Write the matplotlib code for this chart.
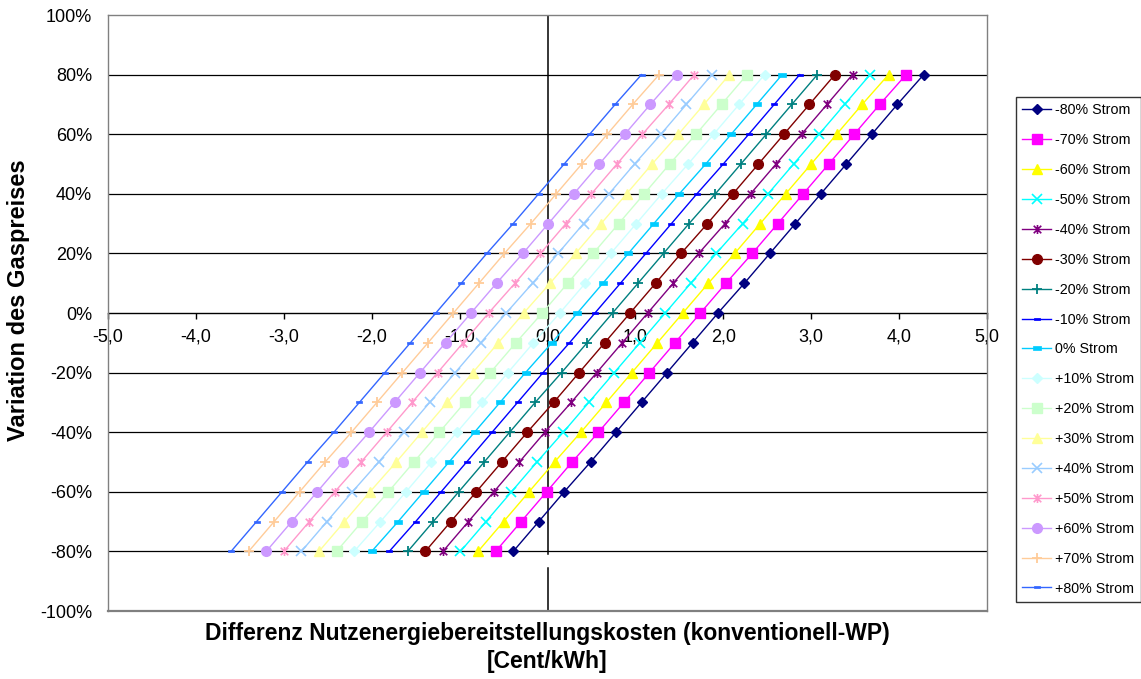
import matplotlib
matplotlib.use("Agg")
import matplotlib.pyplot as plt
from matplotlib.path import Path
from matplotlib.ticker import FixedLocator, FixedFormatter

plt.rcParams['font.family'] = ['Liberation Sans', 'DejaVu Sans']

# Gas price variation (y, %)
gas_variation = [-80, -70, -60, -50, -40, -30, -20, -10, 0, 10, 20, 30, 40, 50, 60, 70, 80]

series_labels = ["-80% Strom", "-70% Strom", "-60% Strom", "-50% Strom", "-40% Strom",
                 "-30% Strom", "-20% Strom", "-10% Strom", "0% Strom", "+10% Strom",
                 "+20% Strom", "+30% Strom", "+40% Strom", "+50% Strom", "+60% Strom",
                 "+70% Strom", "+80% Strom"]

# Cost difference (Cent/kWh) per electricity-price series, one value per gas variation
s_m80 = [-0.39, -0.10, 0.19, 0.49, 0.78, 1.07, 1.36, 1.65, 1.94, 2.24, 2.53, 2.82, 3.11, 3.40, 3.69, 3.98, 4.28]
s_m70 = [-0.59, -0.30, -0.01, 0.28, 0.58, 0.87, 1.16, 1.45, 1.74, 2.03, 2.33, 2.62, 2.91, 3.20, 3.49, 3.78, 4.08]
s_m60 = [-0.79, -0.50, -0.21, 0.08, 0.38, 0.67, 0.96, 1.25, 1.54, 1.83, 2.13, 2.42, 2.71, 3.00, 3.29, 3.58, 3.88]
s_m50 = [-0.99, -0.70, -0.41, -0.12, 0.18, 0.47, 0.76, 1.05, 1.34, 1.63, 1.92, 2.22, 2.51, 2.80, 3.09, 3.38, 3.67]
s_m40 = [-1.19, -0.90, -0.61, -0.32, -0.03, 0.27, 0.56, 0.85, 1.14, 1.43, 1.72, 2.02, 2.31, 2.60, 2.89, 3.18, 3.47]
s_m30 = [-1.39, -1.10, -0.81, -0.52, -0.23, 0.07, 0.36, 0.65, 0.94, 1.23, 1.52, 1.82, 2.11, 2.40, 2.69, 2.98, 3.27]
s_m20 = [-1.59, -1.30, -1.01, -0.72, -0.43, -0.14, 0.16, 0.45, 0.74, 1.03, 1.32, 1.61, 1.91, 2.20, 2.49, 2.78, 3.07]
s_m10 = [-1.80, -1.50, -1.21, -0.92, -0.63, -0.34, -0.05, 0.25, 0.54, 0.83, 1.12, 1.41, 1.70, 2.00, 2.29, 2.58, 2.87]
s_0   = [-2.00, -1.70, -1.41, -1.12, -0.83, -0.54, -0.25, 0.05, 0.34, 0.63, 0.92, 1.21, 1.50, 1.80, 2.09, 2.38, 2.67]
s_p10 = [-2.20, -1.90, -1.61, -1.32, -1.03, -0.74, -0.45, -0.16, 0.14, 0.43, 0.72, 1.01, 1.30, 1.60, 1.89, 2.18, 2.47]
s_p20 = [-2.40, -2.11, -1.81, -1.52, -1.23, -0.94, -0.65, -0.36, -0.06, 0.23, 0.52, 0.81, 1.10, 1.39, 1.69, 1.98, 2.27]
s_p30 = [-2.60, -2.31, -2.02, -1.72, -1.43, -1.14, -0.85, -0.56, -0.27, 0.03, 0.32, 0.61, 0.90, 1.19, 1.49, 1.78, 2.07]
s_p40 = [-2.80, -2.51, -2.22, -1.92, -1.63, -1.34, -1.05, -0.76, -0.47, -0.17, 0.12, 0.41, 0.70, 0.99, 1.29, 1.58, 1.87]
s_p50 = [-3.00, -2.71, -2.42, -2.12, -1.83, -1.54, -1.25, -0.96, -0.67, -0.37, -0.08, 0.21, 0.50, 0.79, 1.08, 1.38, 1.67]
s_p60 = [-3.20, -2.91, -2.62, -2.33, -2.03, -1.74, -1.45, -1.16, -0.87, -0.58, -0.28, 0.01, 0.30, 0.59, 0.88, 1.17, 1.47]
s_p70 = [-3.40, -3.11, -2.82, -2.53, -2.23, -1.94, -1.65, -1.36, -1.07, -0.78, -0.49, -0.19, 0.10, 0.39, 0.68, 0.97, 1.27]
s_p80 = [-3.60, -3.31, -3.02, -2.73, -2.43, -2.14, -1.85, -1.56, -1.27, -0.98, -0.69, -0.39, -0.10, 0.19, 0.48, 0.77, 1.07]

all_series = [s_m80, s_m70, s_m60, s_m50, s_m40, s_m30, s_m20, s_m10, s_0,
              s_p10, s_p20, s_p30, s_p40, s_p50, s_p60, s_p70, s_p80]

x_ticks = [-5, -4, -3, -2, -1, 0, 1, 2, 3, 4, 5]
x_tick_labels = ["-5,0", "-4,0", "-3,0", "-2,0", "-1,0", "0,0", "1,0", "2,0", "3,0", "4,0", "5,0"]
y_ticks = [-100, -80, -60, -40, -20, 0, 20, 40, 60, 80, 100]
y_tick_labels = ["-100%", "-80%", "-60%", "-40%", "-20%", "0%", "20%", "40%", "60%", "80%", "100%"]

colors = ["#000080", "#FF00FF", "#FFFF00", "#00FFFF", "#800080", "#800000", "#008080",
          "#0000FF", "#00CCFF", "#CCFFFF", "#CCFFCC", "#FFFF99", "#99CCFF", "#FF99CC",
          "#CC99FF", "#FFCC99", "#3366FF"]

star = Path([(-1, -1), (1, 1), (-1, 1), (1, -1), (0, -1.2), (0, 1.2)],
            [Path.MOVETO, Path.LINETO, Path.MOVETO, Path.LINETO, Path.MOVETO, Path.LINETO])
dash = Path([(-1, -0.45), (1, -0.45), (1, 0.45), (-1, 0.45), (-1, -0.45)],
            [Path.MOVETO, Path.LINETO, Path.LINETO, Path.LINETO, Path.CLOSEPOLY])

# marker, size, edge width
mstyles = [("D", 5, 1), ("s", 6.5, 1), ("^", 7, 1), ("x", 6.5, 1.2), (star, 6.5, 1.2),
           ("o", 7, 1), ("+", 7, 1.3), (dash, 4, 0.5), (dash, 6, 0.5),
           ("D", 5, 1), ("s", 6.5, 1), ("^", 7, 1), ("x", 6.5, 1.2), (star, 6.5, 1.2),
           ("o", 7, 1), ("+", 7, 1.3), (dash, 4, 0.5)]

W, H = 1141, 679
fig = plt.figure(figsize=(W / 100, H / 100), dpi=100)
ax = fig.add_axes([108 / W, 1 - 611 / H, (987 - 108) / W, (611 - 15) / H])

for yv in [-80, -60, -40, -20, 20, 40, 60, 80]:
    ax.axhline(yv, color="black", lw=0.9, zorder=1)

# vertical axis line at x = 0 (with small gap below -80%)
ax.plot([0, 0], [-80.9, 100], color="black", lw=1.1, zorder=1)
ax.plot([0, 0], [-100, -85.6], color="black", lw=1.1, zorder=1)

handles = []
for vals, lab, c, (m, ms, mew) in zip(all_series, series_labels, colors, mstyles):
    h, = ax.plot(vals, gas_variation, color=c, lw=1.0, marker=m, markersize=ms,
                 markerfacecolor=c, markeredgecolor=c, markeredgewidth=mew,
                 label=lab, zorder=3, clip_on=False)
    handles.append(h)

ax.set_xlim(-5, 5)
ax.set_ylim(-100, 100)

for side in ["left", "right", "top"]:
    ax.spines[side].set_color("#808080")
    ax.spines[side].set_linewidth(1.0)
ax.spines["bottom"].set_position(("data", 0))
ax.spines["bottom"].set_color("black")
ax.spines["bottom"].set_linewidth(1.0)
ax.spines["bottom"].set_zorder(2)
ax.plot([-5, 5], [-100, -100], color="#808080", lw=1.6, clip_on=False, zorder=2)

ax.xaxis.set_major_locator(FixedLocator(x_ticks))
ax.xaxis.set_major_formatter(FixedFormatter(x_tick_labels))
ax.yaxis.set_major_locator(FixedLocator(y_ticks))
ax.yaxis.set_major_formatter(FixedFormatter(y_tick_labels))
ax.tick_params(axis="x", direction="out", length=4, width=1, color="black",
               labelsize=13, pad=7)
ax.tick_params(axis="y", length=0, labelsize=13, pad=11.5)

fig.text((108 + 987) / 2 / W, 1 - 647.5 / H,
         "Differenz Nutzenergiebereitstellungskosten (konventionell-WP)\n[Cent/kWh]",
         ha="center", va="center", fontsize=16.5, fontweight="bold", linespacing=1.33)
fig.text(19 / W, 1 - 300 / H, "Variation des Gaspreises", rotation=90,
         ha="center", va="center", fontsize=17, fontweight="bold")

leg = fig.legend(handles=handles, loc="upper left",
                 bbox_to_anchor=(1016 / W, 1 - 97 / H), fontsize=10.3,
                 frameon=True, fancybox=False, edgecolor="black",
                 handlelength=2.0, handletextpad=0.3, labelspacing=1.11,
                 borderpad=0.45, borderaxespad=0)
leg.get_frame().set_linewidth(1.0)

fig.savefig("out.png", dpi=100)
